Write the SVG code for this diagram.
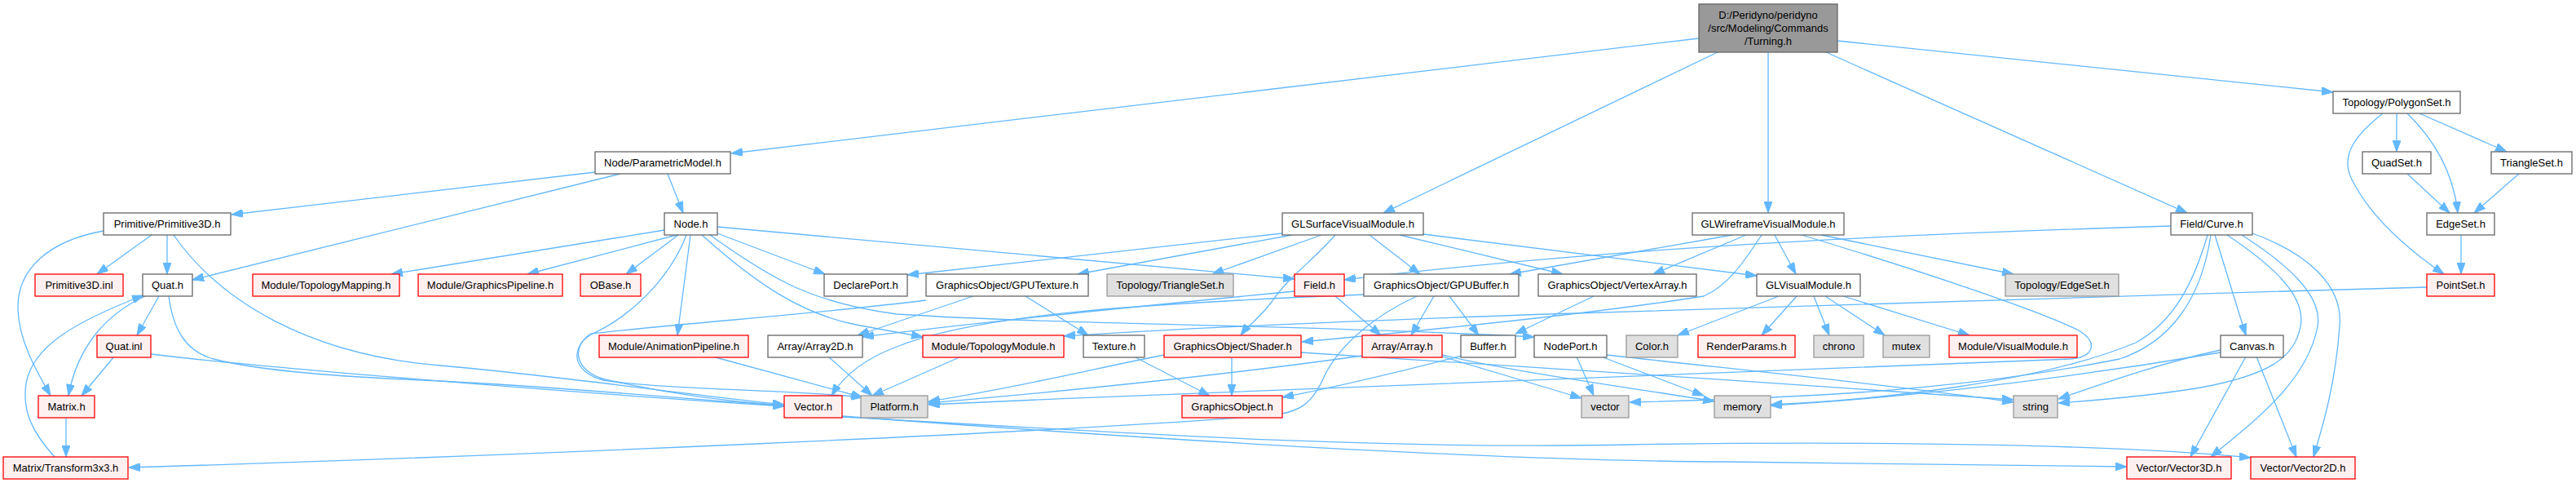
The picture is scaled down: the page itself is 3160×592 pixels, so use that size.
<svg xmlns="http://www.w3.org/2000/svg" width="3160" height="592" viewBox="0 0 3160 592">
<style>
rect{stroke-width:1.3}
.n rect{fill:#ffffff;stroke:#666666}
.r rect{fill:#fff0f0;stroke:#ff0000}
.g rect{fill:#e0e0e0;stroke:#999999}
.root rect{fill:#999999;stroke:#666666}
text{font-family:"Liberation Sans",Arial,sans-serif;font-size:13px;fill:#000;text-anchor:middle}
#edges path{fill:none;stroke:#63b8ff;stroke-width:1.3;marker-end:url(#a)}
</style>
<defs>
<marker id="a" markerWidth="14" markerHeight="10" refX="14" refY="5" orient="auto" markerUnits="userSpaceOnUse"><path d="M0,0 L14,5 L0,10 z" fill="#63b8ff" stroke="#63b8ff" stroke-width="1"/></marker>
</defs>
<rect width="3160" height="592" fill="#ffffff"/>
<g id="edges">
<path d="M2084,47 L897,188"/>
<path d="M2107,64 L1697,261"/>
<path d="M2169,64 L2169,261"/>
<path d="M2240,64 L2683,261"/>
<path d="M2254,50 L2862,113"/>
<path d="M730,211 L284,263"/>
<path d="M761,213 L236,343"/>
<path d="M819,213 L838,261"/>
<path d="M186,288 L119,336"/>
<path d="M205,288 L205,336"/>
<path d="M127,283 C60,295 20,330 22,380 C24,420 45,455 62,485"/>
<path d="M213,288 C270,370 380,435 540,448 C700,462 850,485 962,496"/>
<path d="M195,363 L168,411"/>
<path d="M178,363 C130,385 95,425 84,485"/>
<path d="M67,560 C40,530 27,505 32,470 C40,425 90,395 176,362"/>
<path d="M207,363 C212,400 225,430 262,440 C320,455 420,462 540,467 C700,475 850,490 962,497"/>
<path d="M140,437 L100,485"/>
<path d="M185,434 C300,448 650,478 962,498"/>
<path d="M81,512 L81,560"/>
<path d="M1738,363 C1690,385 1645,420 1625,460 C1610,495 1595,505 1560,509 C1300,530 600,560 158,573"/>
<path d="M1033,510 C1300,530 1800,565 2120,566 L2609,572"/>
<path d="M1033,511 C1300,525 1650,552 2000,545 C2300,540 2600,545 2761,561"/>
<path d="M815,282 L480,336"/>
<path d="M830,288 L647,336"/>
<path d="M832,288 L768,336"/>
<path d="M842,288 C820,345 770,390 725,410 C700,425 700,455 740,466 C820,478 980,478 1058,487"/>
<path d="M847,288 L831,411"/>
<path d="M880,286 L1012,336"/>
<path d="M880,278 L1588,342"/>
<path d="M871,288 C950,345 1000,372 1100,385 C1300,398 1600,398 1882,413"/>
<path d="M861,288 C930,350 985,385 1050,398 L1132,413"/>
<path d="M1136,368 C1000,385 850,395 725,409 C700,425 705,455 742,465 C830,485 900,493 962,497"/>
<path d="M1194,363 L1052,411"/>
<path d="M1258,363 L1335,411"/>
<path d="M1573,286 L1113,337"/>
<path d="M1585,288 L1322,336"/>
<path d="M1621,288 L1487,336"/>
<path d="M1638,288 C1610,320 1580,340 1560,370 C1545,390 1530,400 1522,411"/>
<path d="M1680,288 L1742,336"/>
<path d="M1717,288 L1917,336"/>
<path d="M1746,287 L2155,338"/>
<path d="M2125,288 L1852,336"/>
<path d="M2142,288 L2028,336"/>
<path d="M2177,288 L2203,336"/>
<path d="M2234,288 L2470,336"/>
<path d="M2161,288 C2140,320 2120,350 2090,363 C1950,385 1750,405 1597,419"/>
<path d="M2210,288 C2350,330 2500,380 2550,405 C2575,420 2568,438 2540,440 C2300,450 1700,470 1139,496"/>
<path d="M1955,363 L1859,409"/>
<path d="M1759,363 L1731,411"/>
<path d="M1778,363 L1814,411"/>
<path d="M1673,361 C1400,372 1200,385 1100,425 C1060,440 1035,460 1020,485"/>
<path d="M1638,363 L1694,411"/>
<path d="M1588,357 C1400,375 1200,395 1058,413"/>
<path d="M1671,436 C1500,460 1300,480 1139,494"/>
<path d="M1769,437 L1940,488"/>
<path d="M1769,435 C1850,455 2000,475 2103,492"/>
<path d="M1793,436 C1700,460 1620,478 1573,487"/>
<path d="M1934,437 L1955,485"/>
<path d="M1964,437 L2090,485"/>
<path d="M1971,435 C2150,455 2350,475 2470,493"/>
<path d="M1511,437 L1511,485"/>
<path d="M1428,435 C1350,450 1250,475 1139,492"/>
<path d="M1596,432 C1800,445 2200,470 2470,490"/>
<path d="M1391,437 L1484,485"/>
<path d="M1179,437 L1070,485"/>
<path d="M874,437 L1058,487"/>
<path d="M1016,437 L1070,485"/>
<path d="M2182,363 L2058,411"/>
<path d="M2204,363 L2161,411"/>
<path d="M2225,363 L2244,411"/>
<path d="M2239,363 L2312,411"/>
<path d="M2261,363 L2416,411"/>
<path d="M2977,352 C2600,362 2200,378 1900,385 C1700,392 1450,402 1305,412"/>
<path d="M2755,437 L2687,560"/>
<path d="M2768,437 L2817,560"/>
<path d="M2724,429 C2650,445 2580,470 2525,489"/>
<path d="M2724,432 C2500,470 2300,490 2172,497"/>
<path d="M2663,277 C2400,285 2000,300 1649,343"/>
<path d="M2717,288 L2755,411"/>
<path d="M2750,288 C2800,320 2850,360 2843,400 C2830,470 2760,520 2712,560"/>
<path d="M2763,286 C2830,310 2875,350 2870,400 C2865,470 2850,520 2838,560"/>
<path d="M2732,288 C2780,320 2830,360 2822,400 C2815,440 2780,460 2700,475 C2640,485 2580,490 2525,494"/>
<path d="M2708,288 C2690,350 2665,395 2620,420 C2500,470 2300,490 2172,496"/>
<path d="M2712,288 C2700,370 2660,420 2600,440 C2400,480 2200,488 1999,493"/>
<path d="M2940,139 L2940,186"/>
<path d="M2953,139 C2990,175 3010,215 3015,261"/>
<path d="M2968,139 L3075,186"/>
<path d="M2923,139 C2890,165 2870,190 2885,220 C2910,270 2960,310 2998,336"/>
<path d="M2953,213 L3005,261"/>
<path d="M3090,213 L3035,261"/>
<path d="M3019,288 L3019,336"/>
</g>
<g id="root" class="root"><rect x="2084" y="5" width="170" height="59"/><text x="2169" y="23">D:/Peridyno/peridyno</text><text x="2169" y="39">/src/Modeling/Commands</text><text x="2169" y="55">/Turning.h</text></g>
<g id="polygonset" class="n"><rect x="2862" y="112" width="156" height="27"/><text x="2940" y="130">Topology/PolygonSet.h</text></g>
<g id="parametricmodel" class="n"><rect x="730" y="186" width="166" height="27"/><text x="813" y="204">Node/ParametricModel.h</text></g>
<g id="quadset" class="n"><rect x="2898" y="186" width="84" height="27"/><text x="2940" y="204">QuadSet.h</text></g>
<g id="trianglesetlocal" class="n"><rect x="3056" y="186" width="99" height="27"/><text x="3105.5" y="204">TriangleSet.h</text></g>
<g id="primitive3d" class="n"><rect x="127" y="261" width="156" height="27"/><text x="205" y="279">Primitive/Primitive3D.h</text></g>
<g id="node" class="n"><rect x="815" y="261" width="65" height="27"/><text x="847.5" y="279">Node.h</text></g>
<g id="glsurface" class="n"><rect x="1573" y="261" width="173" height="27"/><text x="1659.5" y="279">GLSurfaceVisualModule.h</text></g>
<g id="glwireframe" class="n"><rect x="2076" y="261" width="186" height="27"/><text x="2169" y="279">GLWireframeVisualModule.h</text></g>
<g id="curve" class="n"><rect x="2663" y="261" width="100" height="27"/><text x="2713" y="279">Field/Curve.h</text></g>
<g id="edgesetlocal" class="n"><rect x="2977" y="261" width="83" height="27"/><text x="3018.5" y="279">EdgeSet.h</text></g>
<g id="primitive3dinl" class="r"><rect x="43" y="336" width="108" height="27"/><text x="97" y="354">Primitive3D.inl</text></g>
<g id="quat" class="n"><rect x="175" y="336" width="61" height="27"/><text x="205.5" y="354">Quat.h</text></g>
<g id="topologymapping" class="r"><rect x="310" y="336" width="180" height="27"/><text x="400" y="354">Module/TopologyMapping.h</text></g>
<g id="graphicspipeline" class="r"><rect x="513" y="336" width="177" height="27"/><text x="601.5" y="354">Module/GraphicsPipeline.h</text></g>
<g id="obase" class="r"><rect x="712" y="336" width="74" height="27"/><text x="749" y="354">OBase.h</text></g>
<g id="declareport" class="n"><rect x="1011" y="336" width="102" height="27"/><text x="1062" y="354">DeclarePort.h</text></g>
<g id="gputexture" class="n"><rect x="1136" y="336" width="199" height="27"/><text x="1235.5" y="354">GraphicsObject/GPUTexture.h</text></g>
<g id="triangleset" class="g"><rect x="1358" y="336" width="155" height="27"/><text x="1435.5" y="354">Topology/TriangleSet.h</text></g>
<g id="field" class="r"><rect x="1588" y="336" width="61" height="27"/><text x="1618.5" y="354">Field.h</text></g>
<g id="gpubuffer" class="n"><rect x="1673" y="336" width="190" height="27"/><text x="1768" y="354">GraphicsObject/GPUBuffer.h</text></g>
<g id="vertexarray" class="n"><rect x="1887" y="336" width="194" height="27"/><text x="1984" y="354">GraphicsObject/VertexArray.h</text></g>
<g id="glvisualmodule" class="n"><rect x="2155" y="336" width="127" height="27"/><text x="2218.5" y="354">GLVisualModule.h</text></g>
<g id="edgeset" class="g"><rect x="2460" y="336" width="139" height="27"/><text x="2529.5" y="354">Topology/EdgeSet.h</text></g>
<g id="pointset" class="r"><rect x="2977" y="336" width="83" height="27"/><text x="3018.5" y="354">PointSet.h</text></g>
<g id="quatinl" class="r"><rect x="119" y="411" width="66" height="27"/><text x="152" y="429">Quat.inl</text></g>
<g id="animationpipeline" class="r"><rect x="735" y="411" width="183" height="27"/><text x="826.5" y="429">Module/AnimationPipeline.h</text></g>
<g id="array2d" class="n"><rect x="942" y="411" width="116" height="27"/><text x="1000" y="429">Array/Array2D.h</text></g>
<g id="topologymodule" class="r"><rect x="1132" y="411" width="173" height="27"/><text x="1218.5" y="429">Module/TopologyModule.h</text></g>
<g id="texture" class="n"><rect x="1329" y="411" width="75" height="27"/><text x="1366.5" y="429">Texture.h</text></g>
<g id="shader" class="r"><rect x="1428" y="411" width="168" height="27"/><text x="1512" y="429">GraphicsObject/Shader.h</text></g>
<g id="array" class="r"><rect x="1671" y="411" width="98" height="27"/><text x="1720" y="429">Array/Array.h</text></g>
<g id="buffer" class="n"><rect x="1792" y="411" width="67" height="27"/><text x="1825.5" y="429">Buffer.h</text></g>
<g id="nodeport" class="n"><rect x="1882" y="411" width="89" height="27"/><text x="1926.5" y="429">NodePort.h</text></g>
<g id="color" class="g"><rect x="1995" y="411" width="63" height="27"/><text x="2026.5" y="429">Color.h</text></g>
<g id="renderparams" class="r"><rect x="2083" y="411" width="119" height="27"/><text x="2142.5" y="429">RenderParams.h</text></g>
<g id="chrono" class="g"><rect x="2225" y="411" width="61" height="27"/><text x="2255.5" y="429">chrono</text></g>
<g id="mutex" class="g"><rect x="2310" y="411" width="57" height="27"/><text x="2338.5" y="429">mutex</text></g>
<g id="visualmodule" class="r"><rect x="2391" y="411" width="157" height="27"/><text x="2469.5" y="429">Module/VisualModule.h</text></g>
<g id="canvas" class="n"><rect x="2724" y="411" width="77" height="27"/><text x="2762.5" y="429">Canvas.h</text></g>
<g id="matrix" class="r"><rect x="47" y="485" width="69" height="27"/><text x="81.5" y="503">Matrix.h</text></g>
<g id="vectorh" class="r"><rect x="962" y="485" width="71" height="27"/><text x="997.5" y="503">Vector.h</text></g>
<g id="platform" class="g"><rect x="1056" y="485" width="82" height="27"/><text x="1097" y="503">Platform.h</text></g>
<g id="graphicsobject" class="r"><rect x="1450" y="485" width="123" height="27"/><text x="1511.5" y="503">GraphicsObject.h</text></g>
<g id="vector" class="g"><rect x="1940" y="485" width="58" height="27"/><text x="1969" y="503">vector</text></g>
<g id="memory" class="g"><rect x="2103" y="485" width="69" height="27"/><text x="2137.5" y="503">memory</text></g>
<g id="string" class="g"><rect x="2470" y="485" width="54" height="27"/><text x="2497" y="503">string</text></g>
<g id="transform3x3" class="r"><rect x="4" y="560" width="153" height="27"/><text x="80.5" y="578">Matrix/Transform3x3.h</text></g>
<g id="vector3d" class="r"><rect x="2609" y="560" width="128" height="27"/><text x="2673" y="578">Vector/Vector3D.h</text></g>
<g id="vector2d" class="r"><rect x="2761" y="560" width="128" height="27"/><text x="2825" y="578">Vector/Vector2D.h</text></g>
</svg>
